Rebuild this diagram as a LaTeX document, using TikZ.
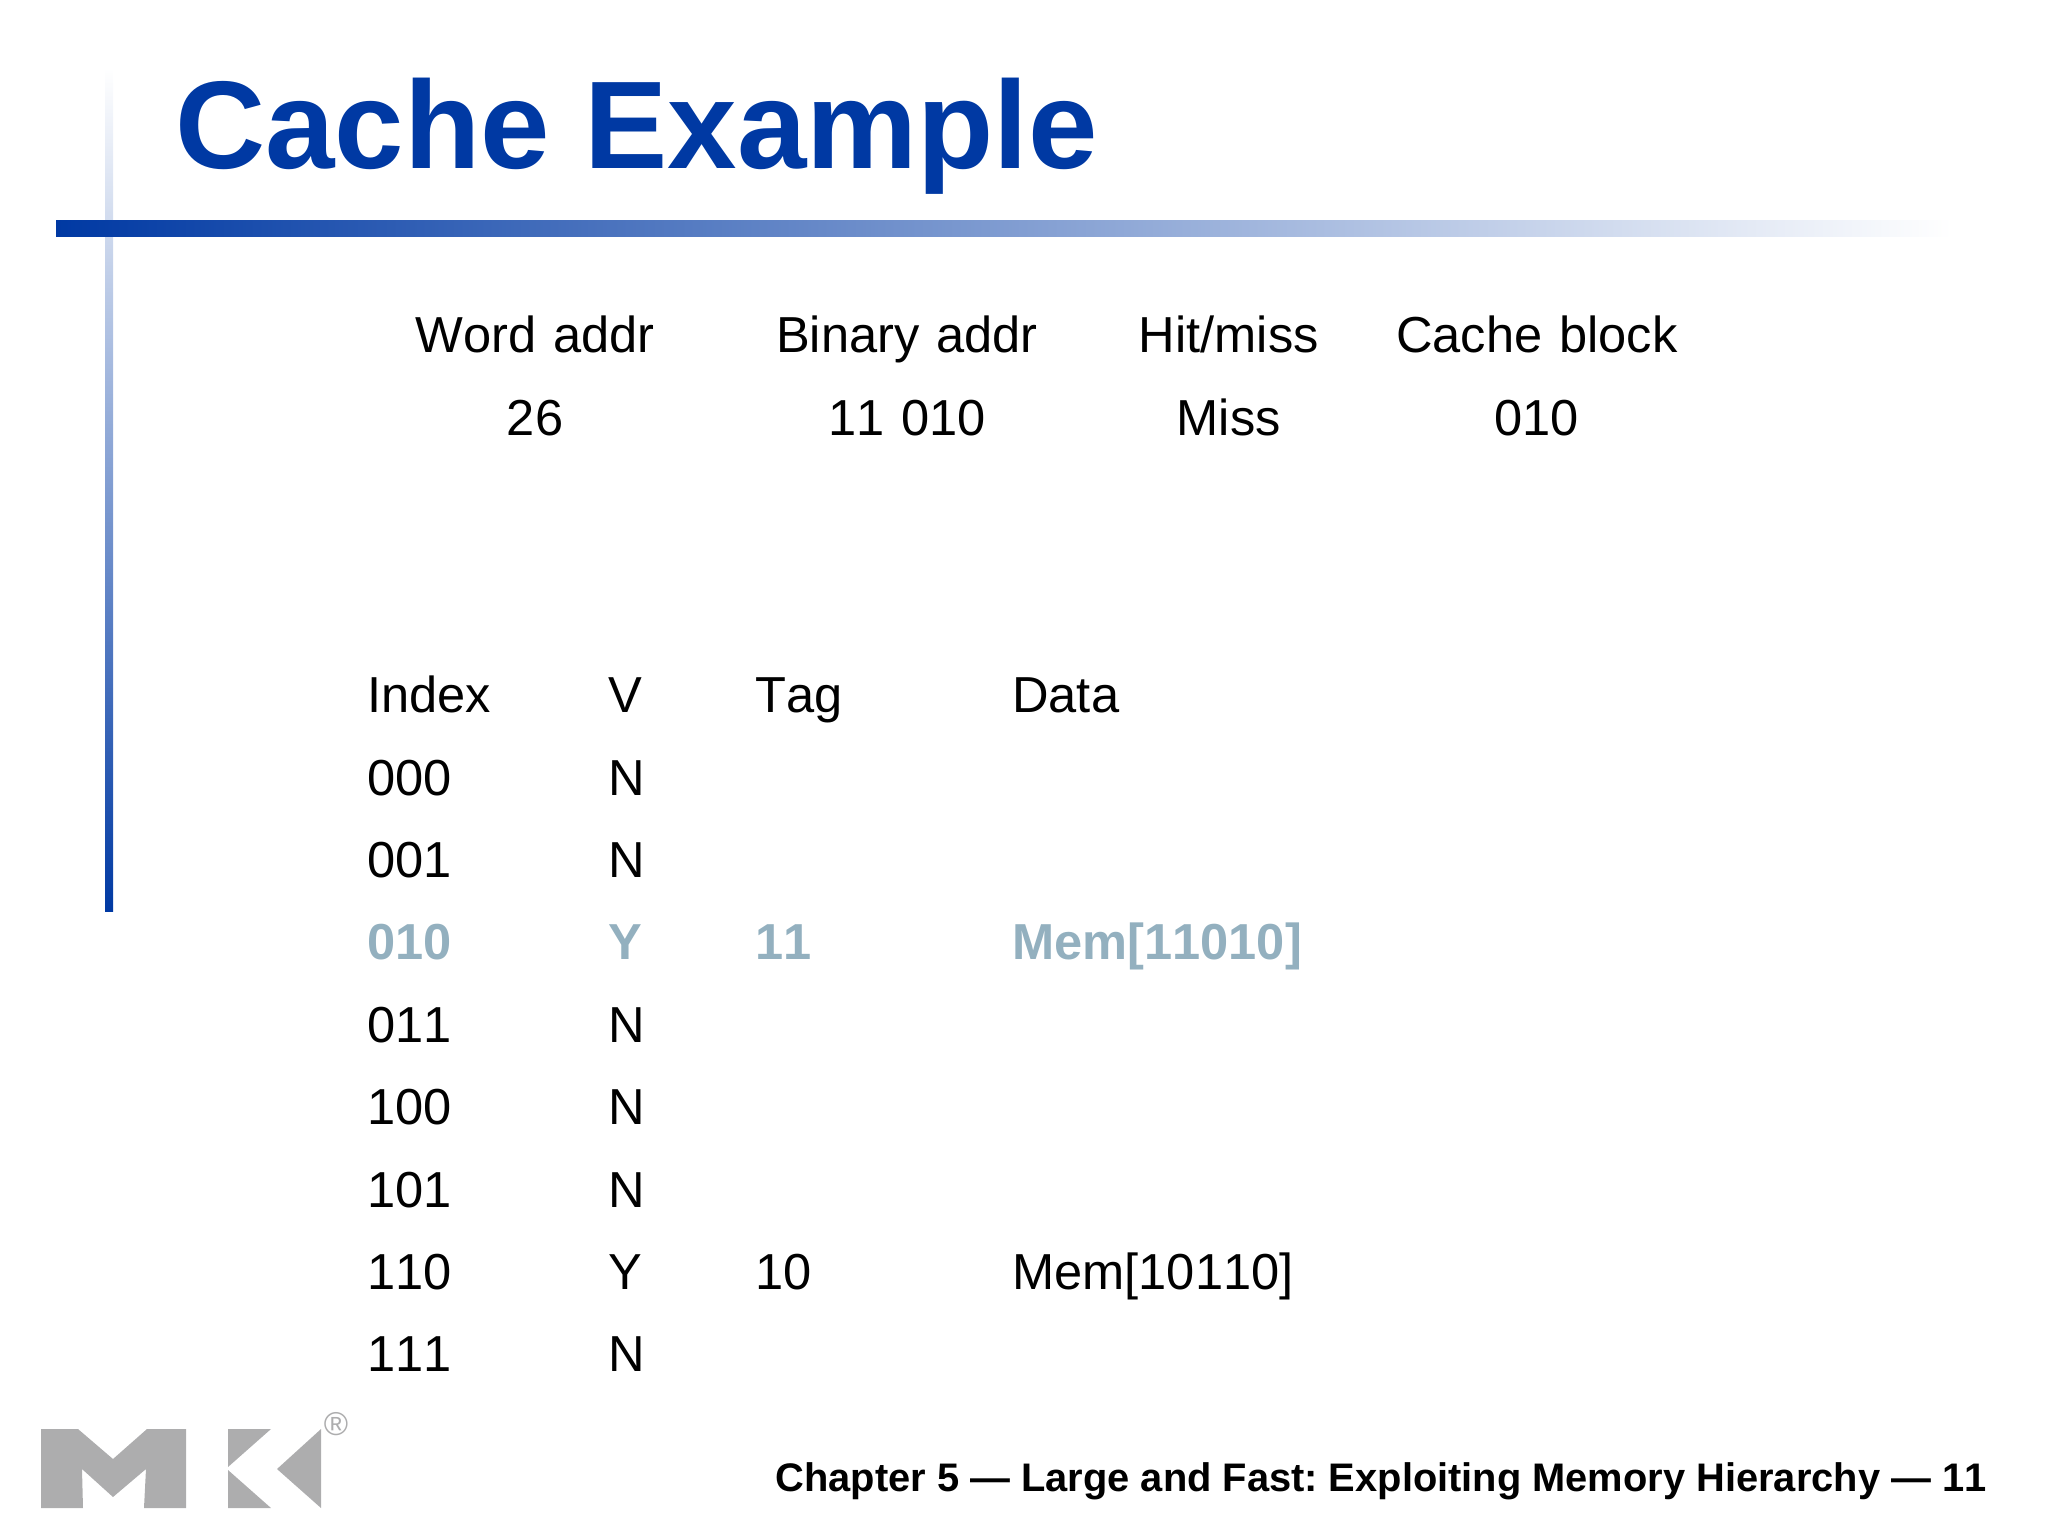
\documentclass[tikz,border=0pt]{standalone}
\usepackage{fontspec}
\setmainfont[Kerning=Off]{Liberation Sans}
\frenchspacing
\definecolor{slideblue}{HTML}{0039A3}
\definecolor{hitblue}{HTML}{93B0BF}
\definecolor{logogray}{HTML}{ADADAE}
\tikzset{
  cell/.style={inner sep=0pt, text height=30pt, text depth=11pt, font=\fontsize{25.3}{30}\selectfont},
  hitcell/.style={cell, text=hitblue, font=\fontsize{25.3}{30}\selectfont\bfseries},
  logo/.style={fill=logogray, draw=none}
}
\begin{document}
\begin{tikzpicture}[x=0.5pt,y=-0.5pt]
  \useasboundingbox (0,0) rectangle (2048,1536);
  % bars behind the title
  \fill[top color=white, bottom color=slideblue] (105,68) rectangle (113,911);
  \fill[left color=slideblue, right color=white] (56,220) rectangle (1952,236.5);
  \node (title) [anchor=base west, inner sep=0pt, text=slideblue, font=\fontsize{62.4}{70}\selectfont\bfseries] at (175,168) {Cache Example};
  % access
  \matrix (access) [anchor=north west, inner sep=0pt, nodes={cell, align=center},
      column 1/.style={nodes={text width=186pt}},
      column 2/.style={nodes={text width=185.7pt}},
      column 3/.style={nodes={text width=136.3pt}},
      column 4/.style={nodes={text width=171.7pt}}] at (348.7,292) {
    \node (wordh) {Word addr}; & \node (binh) {Binary addr}; & \node (hith) {Hit/miss}; & \node (blockh) {Cache block}; \\
    \node (word) {26}; & \node (bin) {11 010}; & \node (hit) {Miss}; & \node (block) {010}; \\
  };
  % cache
  \matrix (cache) [anchor=north west, inner sep=0pt, nodes={align=left},
      column 1/.style={nodes={text width=120.85pt}},
      column 2/.style={nodes={text width=73pt}},
      column 3/.style={nodes={text width=128.35pt}},
      column 4/.style={nodes={text width=160pt}}] at (366.7,651.8) {
    \node[cell] (index) {Index}; & \node[cell] (valid) {V}; & \node[cell] (tag) {Tag}; & \node[cell] (data) {Data}; \\
    \node[cell] (i0) {000}; & \node[cell] (v0) {N}; & & \\
    \node[cell] (i1) {001}; & \node[cell] (v1) {N}; & & \\
    \node[hitcell] (i2) {010}; & \node[hitcell] (v2) {Y}; & \node[hitcell] (t2) {11}; & \node[hitcell] (d2) {Mem[11010]}; \\
    \node[cell] (i3) {011}; & \node[cell] (v3) {N}; & & \\
    \node[cell] (i4) {100}; & \node[cell] (v4) {N}; & & \\
    \node[cell] (i5) {101}; & \node[cell] (v5) {N}; & & \\
    \node[cell] (i6) {110}; & \node[cell] (v6) {Y}; & \node[cell] (t6) {10}; & \node[cell] (d6) {Mem[10110]}; \\
    \node[cell] (i7) {111}; & \node[cell] (v7) {N}; & & \\
  };
  % logo
  \fill[logo] (41,1429) -- (78,1429) -- (113,1459) -- (147,1429) -- (186,1429) -- (186,1508) -- (144,1508) -- (146,1469) -- (113,1497) -- (82,1469) -- (83,1508) -- (41,1508) -- cycle;
  \fill[logo] (228,1429) -- (271,1429) -- (228,1467) -- cycle;
  \fill[logo] (228,1470) -- (271,1508) -- (228,1508) -- cycle;
  \fill[logo] (321,1429) -- (321,1508) -- (277,1469) -- cycle;
  \node (reg) [inner sep=0pt, text=logogray, font=\fontsize{16.5}{16.5}\selectfont] at (336,1424) {\textregistered};
  \node (footer) [anchor=base east, inner sep=0pt, font=\fontsize{19.92}{24}\selectfont\bfseries] at (1987,1491.5) {Chapter 5 — Large and Fast: Exploiting Memory Hierarchy — 11};
\end{tikzpicture}
\end{document}
